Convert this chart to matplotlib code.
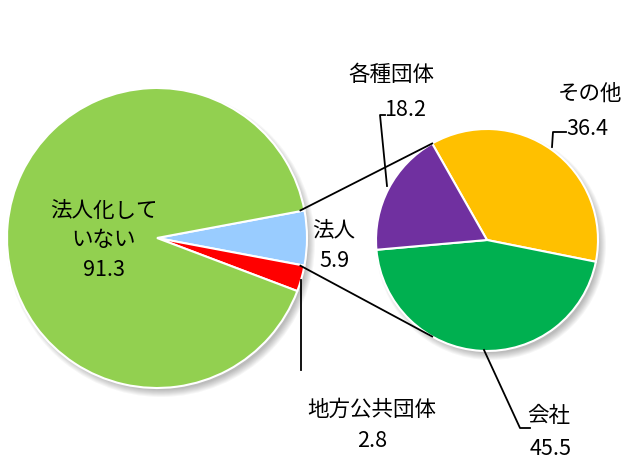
import numpy as np
import matplotlib.pyplot as plt
from matplotlib.patches import Circle

plt.rcParams['font.family'] = ['Noto Sans CJK JP', 'DejaVu Sans']

# main pie
main_labels = ['法人', '地方公共団体', '法人化していない']
main_values = [5.9, 2.8, 91.3]
main_colors = ['#99CCFF', '#FF0000', '#92D050']

# breakdown of 法人
sub_labels = ['その他', '会社', '各種団体']
sub_values = [36.4, 45.5, 18.2]
sub_colors = ['#FFC000', '#00B050', '#7030A0']

W, H = 637, 472
fig = plt.figure(figsize=(W / 100, H / 100), dpi=100)
ax = fig.add_axes([0, 0, 1, 1])

c1, r1 = (157, 234), 150
c2, r2 = (487, 232), 111


def shadow(c, r):
    for i in range(8):
        ax.add_patch(Circle((c[0] + 4, c[1] - 5), r + 4 - i, color='black',
                            alpha=0.035, lw=0, zorder=1))


shadow(c1, r1)
shadow(c2, r2)

wp = dict(edgecolor='white', linewidth=1.5, zorder=2)
w1, _ = ax.pie(main_values, colors=main_colors, startangle=10.6, counterclock=False,
               center=c1, radius=r1, wedgeprops=wp, frame=True)
w2, _ = ax.pie(sub_values, colors=sub_colors, startangle=119.6, counterclock=False,
               center=c2, radius=r2, wedgeprops=wp, frame=True)
for w in list(w1) + list(w2):
    w.set_zorder(2)
ax.set_xlim(0, W)
ax.set_ylim(0, H)
ax.set_aspect('equal')
ax.axis('off')

# connector lines from 法人 wedge to the second pie
blue = w1[0]
for a1, a2 in [(blue.theta2, 119.6), (blue.theta1, 240.4)]:
    p1 = (c1[0] + r1 * np.cos(np.radians(a1)), c1[1] + r1 * np.sin(np.radians(a1)))
    p2 = (c2[0] + r2 * np.cos(np.radians(a2)), c2[1] + r2 * np.sin(np.radians(a2)))
    ax.plot([p1[0] - 4, p2[0]], [p1[1], p2[1]], color='black', lw=1.3, zorder=3)

fs = 15.5
tk = dict(fontsize=fs, ha='center', va='center', zorder=5)

# labels
ax.text(104, H - 211, '法人化して', **tk)
ax.text(104, H - 240, 'いない', **tk)
ax.text(104, H - 270, f'{main_values[2]}', **tk)

ax.text(334, H - 230, main_labels[0], **tk)
ax.text(334, H - 261, f'{main_values[0]}', **tk)

ax.text(372, H - 410, main_labels[1], **tk)
ax.text(372, H - 441, f'{main_values[1]}', **tk)
ax.plot([301, 301], [H - 280, H - 370], color='black', lw=1.3, zorder=4)

ax.text(391, H - 75, sub_labels[2], **tk)
ax.text(405, H - 110, f'{sub_values[2]}', **tk)
ax.plot([385, 380, 387], [H - 115, H - 115, H - 186], color='black', lw=1.3, zorder=4)

ax.text(590, H - 94, sub_labels[0], **tk)
ax.text(587, H - 129, f'{sub_values[0]}', **tk)
ax.plot([566, 553, 552], [H - 132, H - 132, H - 147], color='black', lw=1.3, zorder=4)

ax.text(549, H - 416, sub_labels[1], **tk)
ax.text(551, H - 449, f'{sub_values[1]}', **tk)
ax.plot([484, 520, 530], [H - 350, H - 428, H - 428], color='black', lw=1.3, zorder=4)

fig.savefig('out.png', dpi=100)
